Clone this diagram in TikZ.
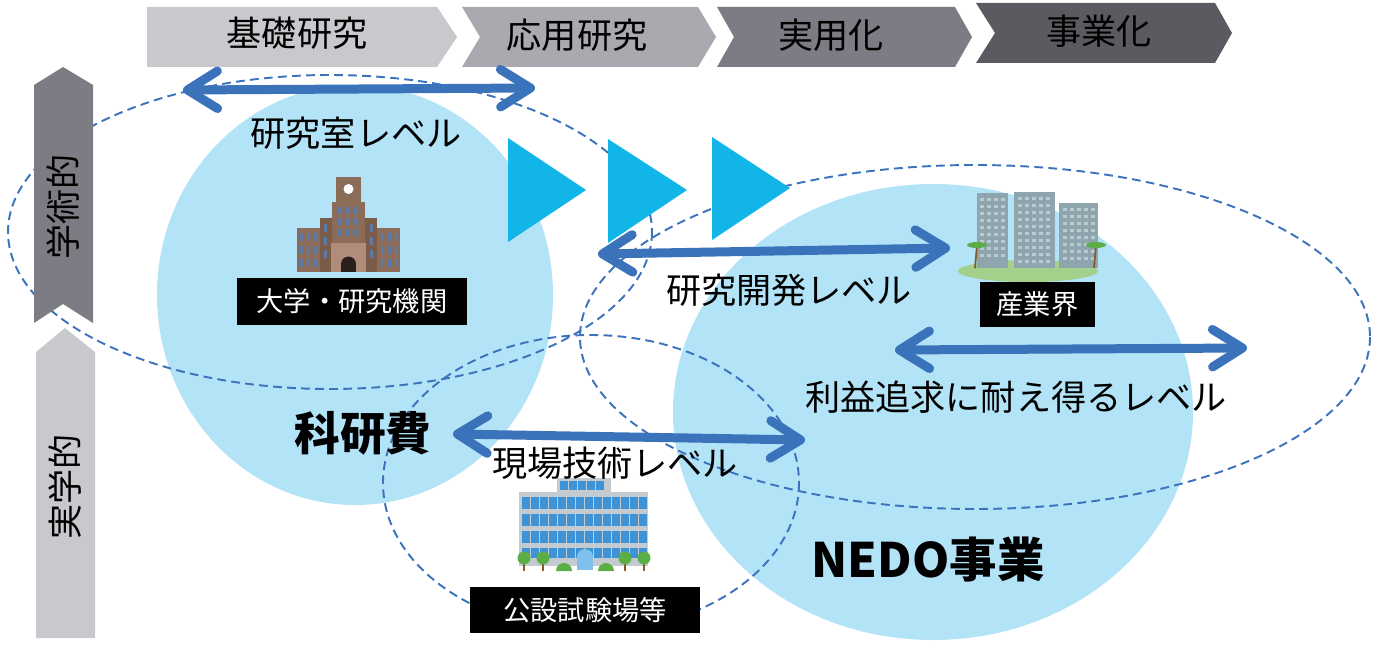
\documentclass[tikz,border=0pt]{standalone}
\usepackage{fontspec}
\setmainfont{Noto Sans CJK JP}
\usetikzlibrary{arrows.meta}

\definecolor{stage1}{HTML}{C8C9CD}
\definecolor{stage2}{HTML}{A9AAAF}
\definecolor{stage3}{HTML}{7C7D84}
\definecolor{stage4}{HTML}{5A5B60}
\definecolor{pool}{HTML}{B3E3F7}
\definecolor{ring}{HTML}{3B73BD}
\definecolor{flow}{HTML}{3A73BA}
\definecolor{go}{HTML}{12B5E8}
\definecolor{brick}{HTML}{8B6C58}
\definecolor{brickdk}{HTML}{7A5C49}
\definecolor{bricklt}{HTML}{B08D7A}
\definecolor{pane}{HTML}{5B7AA8}
\definecolor{tower}{HTML}{8FA5AE}
\definecolor{towerlt}{HTML}{B9CAD0}
\definecolor{lawn}{HTML}{A3D08A}
\definecolor{glass}{HTML}{3D93D6}
\definecolor{glasslt}{HTML}{7FC0EC}
\definecolor{frame}{HTML}{C3CBD1}
\definecolor{leaf}{HTML}{5BAE45}

\tikzset{
  stage/.style={font=\fontsize{20}{20}\selectfont},
  lvarrow/.style={flow, line width=1.8mm,
    {Straight Barb[round,length=6mm,width=7.5mm]}-{Straight Barb[round,length=6mm,width=7.5mm]}},
  zone/.style={ring, line width=1.1pt, dash pattern=on 5pt off 3pt},
  lvtext/.style={font=\fontsize{20}{20}\selectfont},
  namebox/.style={fill=black, text=white, font=\fontsize{15.5}{15.5}\selectfont, inner sep=0pt},
  fund/.style={font=\bfseries\fontsize{26}{26}\selectfont},
}

\begin{document}
\begin{tikzpicture}[x=0.02cm, y=-0.02cm]
\useasboundingbox (0,0) rectangle (1384,652);

% funding pools
\fill[pool] (355,295) ellipse [x radius=198, y radius=210];
\fill[pool] (933,412) ellipse [x radius=260, y radius=228];

% levels
\draw[zone] (330,232) ellipse [x radius=322, y radius=157];
\draw[zone] (975,337) ellipse [x radius=395, y radius=172];
\draw[zone] (591,483) ellipse [x radius=208, y radius=148];

% stages along the top
\fill[stage1] (147,7) -- (437,7) -- (457,37) -- (437,67) -- (147,67) -- cycle;
\fill[stage2] (462,7) -- (698,7) -- (716,37) -- (698,67) -- (462,67) -- (480,37) -- cycle;
\fill[stage3] (717,7) -- (955,7) -- (972,37) -- (955,67) -- (717,67) -- (734,37) -- cycle;
\fill[stage4] (976,3) -- (1215,3) -- (1232,33) -- (1215,63) -- (976,63) -- (995,33) -- cycle;
\node[stage] (basic) at (297,33) {基礎研究};
\node[stage] (applied) at (577,35) {応用研究};
\node[stage] (practical) at (831,35) {実用化};
\node[stage] (business) at (1099,31) {事業化};

% academic / practical
\fill[stage3] (34,85) -- (63,67) -- (93,85) -- (93,323) -- (63,304) -- (34,323) -- cycle;
\fill[stage1] (36,352) -- (65,328) -- (95,352) -- (95,638) -- (36,638) -- cycle;
\node[stage, rotate=90] (academic) at (63,207) {学術的};
\node[stage, rotate=90] (applied2) at (65,487) {実学的};

% go go go
\fill[go] (508,138) -- (586,190) -- (508,242) -- cycle;
\fill[go] (608,139) -- (687,190) -- (608,243) -- cycle;
\fill[go] (712,137) -- (790,188) -- (712,240) -- cycle;

% university
\fill[brick] (297,228) rectangle (400,272);
\fill[brickdk] (320,218) rectangle (377,272);
\fill[brick] (332,202) rectangle (365,272);
\fill[brick] (336,177) rectangle (361,202);
\fill[white] (348.5,189) circle (5);
\foreach \x in {300,307,314,381,388,395}
  \foreach \y in {233,246,259} \fill[pane] (\x,\y) rectangle ++(3,8);
\foreach \x in {324,370}
  \foreach \y in {224,237,250} \fill[pane] (\x,\y) rectangle ++(3,8);
\foreach \x in {338,346,354}
  \foreach \y in {207,218,229} \fill[pane] (\x,\y) rectangle ++(3,7);
\fill[bricklt] (331,243) rectangle (366,272);
\fill[black!70!brick] (341,264) rectangle (356,272);
\fill[black!70!brick] (348.5,264) circle (7.5);
\node[namebox, minimum width=4.6cm, minimum height=0.94cm] (univ) at (352,301.5) {大学・研究機関};

% industry
\fill[lawn] (1028,271) ellipse [x radius=70, y radius=11];
\fill[tower] (977,193) rectangle (1008,268);
\fill[tower] (1014,192) rectangle (1055,268);
\fill[tower] (1059,203) rectangle (1098,268);
\foreach \x in {980,987,994,1001}
  \foreach \y in {198,205,...,260} \fill[towerlt] (\x,\y) rectangle ++(4,3);
\foreach \x in {1018,1025,1032,1039,1046}
  \foreach \y in {197,204,...,260} \fill[towerlt] (\x,\y) rectangle ++(4,3);
\foreach \x in {1063,1070,1077,1084,1091}
  \foreach \y in {208,215,...,260} \fill[towerlt] (\x,\y) rectangle ++(4,3);
\foreach \x in {975,1094} {
  \draw[brown!70!black, line width=1pt] (\x,268) -- (\x+2,245);
  \fill[leaf] (\x+2,245) ellipse [x radius=10, y radius=3];
}
\node[namebox, minimum width=2.3cm, minimum height=0.9cm] (ind) at (1037.5,304.5) {産業界};

% public facility
\fill[frame] (519,492) rectangle (648,566);
\fill[frame] (557,478) rectangle (611,492);
\foreach \x in {560,569,...,600} \fill[glass] (\x,481) rectangle ++(7.5,9);
\foreach \y in {497,514,531}
  \foreach \x in {522,531,...,640} \fill[glass] (\x,\y) rectangle ++(7.5,12);
\foreach \x in {522,531,...,640} \fill[glass] (\x,548) rectangle ++(7.5,10);
\fill[glasslt] (577,557) rectangle (593,570);
\fill[glasslt] (585,557) circle (8);
\foreach \x in {524,543,625,644} {
  \fill[brown!70!black] (\x-1,560) rectangle (\x+1,571);
  \fill[leaf] (\x,558) circle (6.5);
}
\fill[leaf] (556,571) arc (180:360:8);
\fill[leaf] (598,571) arc (180:360:8);
\node[namebox, minimum width=4.6cm, minimum height=0.92cm] (pub) at (585,610) {公設試験場等};

% level arrows
\coordinate (lab-w) at (183,90);
\coordinate (lab-e) at (535,88);
\coordinate (dev-w) at (598,254);
\coordinate (dev-e) at (950,248);
\coordinate (biz-w) at (895,350);
\coordinate (biz-e) at (1247,348);
\coordinate (site-w) at (453,434);
\coordinate (site-e) at (805,440);
\draw[lvarrow] (lab-w) -- (lab-e);
\draw[lvarrow] (dev-w) -- (dev-e);
\draw[lvarrow] (biz-w) -- (biz-e);
\draw[lvarrow] (site-w) -- (site-e);

\node[lvtext] (lab) at (356,133) {研究室レベル};
\node[lvtext] (dev) at (789,290) {研究開発レベル};
\node[lvtext] (biz) at (1016,397) {利益追求に耐え得るレベル};
\node[lvtext] (site) at (615,463) {現場技術レベル};

\node[fund] (kaken) at (363,433) {科研費};
\node[fund, font=\bfseries\fontsize{27}{27}\selectfont] (nedo) at (928,560) {NEDO事業};
\end{tikzpicture}
\end{document}
